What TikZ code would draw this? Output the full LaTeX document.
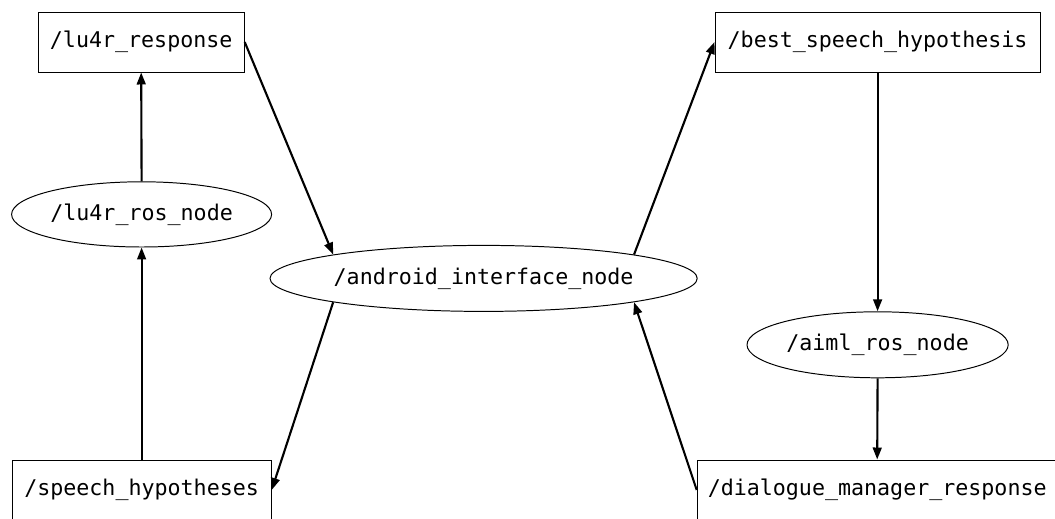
\documentclass[tikz,border=0pt]{standalone}
\usepackage{fontspec}
\setmonofont{DejaVu Sans Mono}
\usetikzlibrary{arrows.meta,shapes.geometric}

\begin{document}
\begin{tikzpicture}[x=1cm,y=1cm]
\tikzset{
  topicbox/.style={rectangle,draw,line width=0.7pt,minimum height=1.5cm,inner sep=1pt,font=\ttfamily\fontsize{15.4}{18}\selectfont},
  rosnode/.style={ellipse,draw,line width=0.7pt,minimum height=1.63cm,inner sep=0pt,font=\ttfamily\fontsize{15.4}{18}\selectfont},
  directed/.style={-{Triangle[length=3mm,width=2.2mm]},line width=1.5pt}
}
\useasboundingbox (0,0) rectangle (26.375,12.95);
\node[topicbox,minimum width=5.15cm] (t_lu4r_response) at (3.53,11.90) {/lu4r\_response};
\node[rosnode,minimum width=6.50cm] (n_lu4r_ros_node) at (3.54,7.59) {/lu4r\_ros\_node};
\node[topicbox,minimum width=6.48cm] (t_speech_hypotheses) at (3.54,0.70) {/speech\_hypotheses};
\node[rosnode,minimum width=10.68cm,minimum height=1.65cm] (n_android_interface_node) at (12.09,5.99) {/android\_interface\_node};
\node[topicbox,minimum width=8.13cm] (t_best_speech_hypothesis) at (21.94,11.90) {/best\_speech\_hypothesis};
\node[rosnode,minimum width=6.53cm,minimum height=1.65cm] (n_aiml_ros_node) at (21.94,4.33) {/aiml\_ros\_node};
\node[topicbox,minimum width=9.00cm] (t_dialogue_manager_response) at (21.93,0.70) {/dialogue\_manager\_response};
\draw[directed] (n_lu4r_ros_node.north) -- (t_lu4r_response.south);
\draw[directed] (t_speech_hypotheses.north) -- (n_lu4r_ros_node.south);
\draw[directed] (t_lu4r_response.east) -- (n_android_interface_node.171);
\draw[directed] (n_android_interface_node.189) -- (t_speech_hypotheses.east);
\draw[directed] (n_android_interface_node.9) -- (t_best_speech_hypothesis.west);
\draw[directed] (t_best_speech_hypothesis.south) -- (n_aiml_ros_node.north);
\draw[directed] (n_aiml_ros_node.south) -- (t_dialogue_manager_response.north);
\draw[directed] (t_dialogue_manager_response.west) -- (n_android_interface_node.351);
\end{tikzpicture}
\end{document}
